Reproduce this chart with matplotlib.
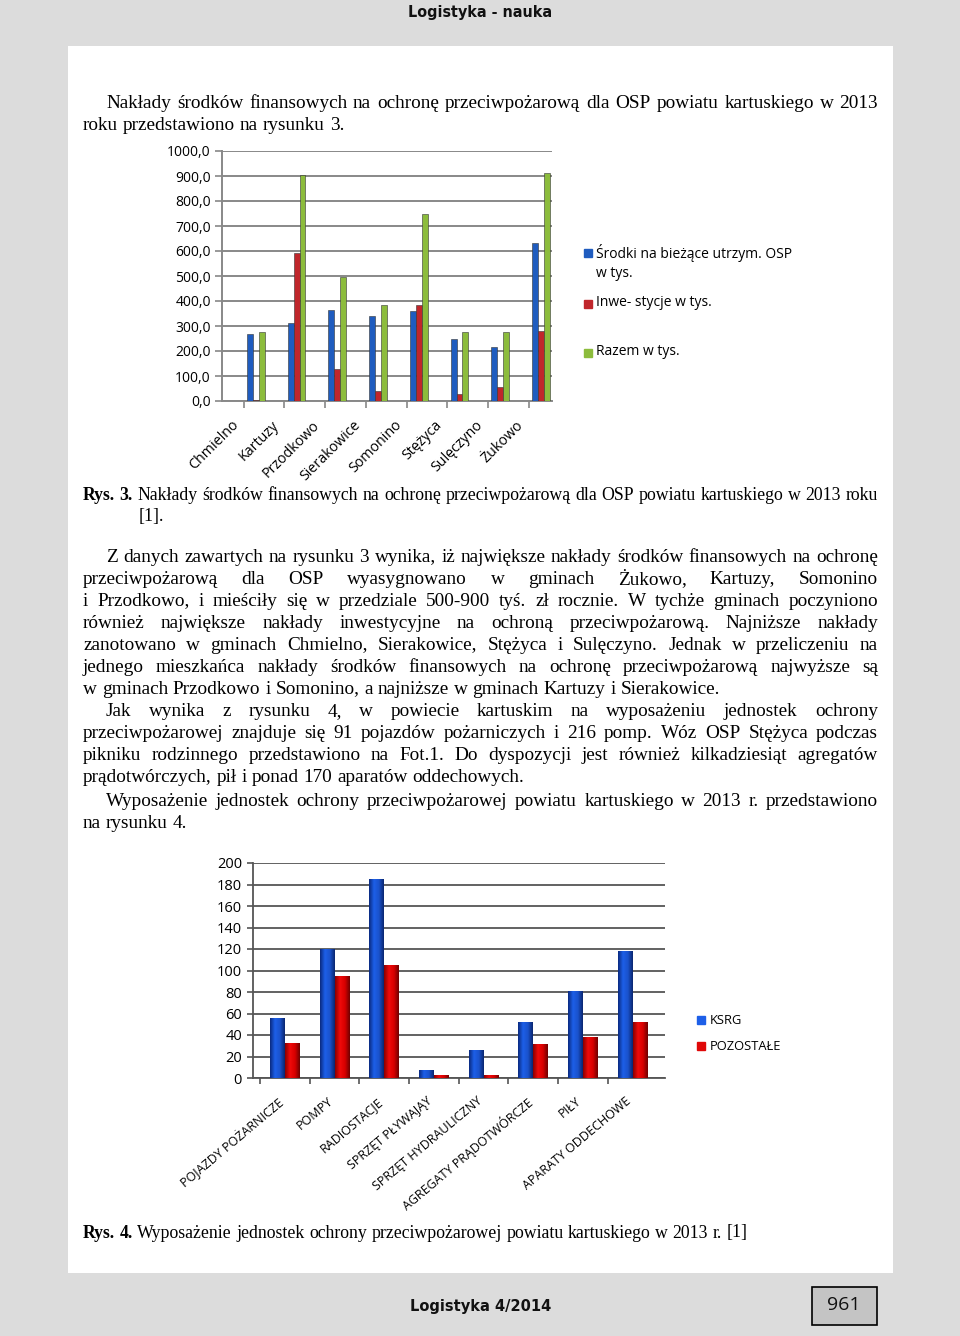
import numpy as np
import matplotlib
matplotlib.use("Agg")
import matplotlib.pyplot as plt
from matplotlib.patches import Rectangle
from matplotlib.colors import LinearSegmentedColormap

# --- data: figure 3 (thousand PLN) ---
gminy = ["Chmielno", "Kartuzy", "Przodkowo", "Sierakowice", "Somonino",
         "Stężyca", "Sulęczyno", "Żukowo"]
srodki = [270, 311, 364, 341, 361, 248, 216, 631]
inwestycje = [4, 591, 129, 41, 384, 27, 57, 280]
razem = [277, 904, 497, 384, 748, 276, 275, 913]
legend1 = ["Środki na bieżące utrzym. OSP\nw tys.", "Inwe- stycje w tys.", "Razem w tys."]

# --- data: figure 4 (units) ---
sprzet = ["POJAZDY POŻARNICZE", "POMPY", "RADIOSTACJE", "SPRZĘT PŁYWAJĄY",
          "SPRZĘT HYDRAULICZNY", "AGREGATY PRĄDOTWÓRCZE", "PIŁY", "APARATY ODDECHOWE"]
ksrg = [56, 120, 185, 7, 26, 52, 81, 118]
pozostale = [33, 95, 105, 3, 3, 32, 38, 52]

W, H = 960, 1336
fig = plt.figure(figsize=(W / 100, H / 100), dpi=100, facecolor="#dcdcdc")
r = fig.canvas.get_renderer()

def fx(x):
    return x / W

def fy(y):
    return 1 - y / H

# white page panel
fig.patches.append(Rectangle((fx(68), fy(1273)), fx(893 - 68), (1273 - 46) / H,
                             transform=fig.transFigure, facecolor="white",
                             edgecolor="none", zorder=-5))

serif = "Liberation Serif"
BODY = 13.9
CAP = 12.8

def put_words(words, y, x0, x1=None, size=BODY):
    # words: list of (text, weight); justified between x0 and x1 if given
    ts = [fig.text(0, 0, w, family=serif, fontsize=size, weight=wt, va="center")
          for w, wt in words]
    widths = [t.get_window_extent(r).width for t in ts]
    a = fig.text(0, 0, "a b", family=serif, fontsize=size)
    b = fig.text(0, 0, "ab", family=serif, fontsize=size)
    sw = a.get_window_extent(r).width - b.get_window_extent(r).width
    a.remove()
    b.remove()
    if x1 is not None and len(ts) > 1:
        gap = (x1 - x0 - sum(widths)) / (len(ts) - 1)
    else:
        gap = sw
    x = x0
    for t, w in zip(ts, widths):
        t.set_position((fx(x), fy(y)))
        x += w + gap

def line(s, y, x0, x1=None, size=BODY):
    put_words([(w, "normal") for w in s.split(" ")], y, x0, x1, size)

L, R, IND = 83, 878, 106

line("Nakłady środków finansowych na ochronę przeciwpożarową dla OSP powiatu kartuskiego w 2013", 103, IND, R)
line("roku przedstawiono na rysunku 3.", 126, L)

cap1 = "Nakłady środków finansowych na ochronę przeciwpożarową dla OSP powiatu kartuskiego w 2013 roku"
put_words([("Rys.", "bold"), ("3.", "bold")] + [(w, "normal") for w in cap1.split(" ")],
          495, L, R, CAP)
line("[1].", 517, 139, None, CAP)

para = [
    ("Z danych zawartych na rysunku 3 wynika, iż największe nakłady środków finansowych na ochronę", 557, IND, R),
    ("przeciwpożarową dla OSP wyasygnowano w gminach Żukowo, Kartuzy, Somonino", 579, L, R),
    ("i Przodkowo, i mieściły się w przedziale 500-900 tyś. zł rocznie. W tychże gminach poczyniono", 601, L, R),
    ("również największe nakłady inwestycyjne na ochroną przeciwpożarową. Najniższe nakłady", 623, L, R),
    ("zanotowano w gminach Chmielno, Sierakowice, Stężyca i Sulęczyno. Jednak w przeliczeniu na", 645, L, R),
    ("jednego mieszkańca nakłady środków finansowych na ochronę przeciwpożarową najwyższe są", 667, L, R),
    ("w gminach Przodkowo i Somonino, a najniższe w gminach Kartuzy i Sierakowice.", 689, L, None),
    ("Jak wynika z rysunku 4, w powiecie kartuskim na wyposażeniu jednostek ochrony", 712, IND, R),
    ("przeciwpożarowej znajduje się 91 pojazdów pożarniczych i 216 pomp. Wóz OSP Stężyca podczas", 734, L, R),
    ("pikniku rodzinnego przedstawiono na Fot.1. Do dyspozycji jest również kilkadziesiąt agregatów", 756, L, R),
    ("prądotwórczych, pił i ponad 170 aparatów oddechowych.", 778, L, None),
    ("Wyposażenie jednostek ochrony przeciwpożarowej powiatu kartuskiego w 2013 r. przedstawiono", 801, IND, R),
    ("na rysunku 4.", 823, L, None),
]
for s, y, a, b in para:
    line(s, y, a, b)

cap2 = "Wyposażenie jednostek ochrony przeciwpożarowej powiatu kartuskiego w 2013 r. [1]"
put_words([("Rys.", "bold"), ("4.", "bold")] + [(w, "normal") for w in cap2.split(" ")],
          1233, L, None, CAP)

# header / footer
fig.text(0.5, fy(12), "Logistyka - nauka", ha="center", va="center", fontsize=11.5,
         weight="bold", fontstretch="condensed", family="DejaVu Sans", color="#111111")
fig.text(fx(410), fy(1307), "Logistyka 4/2014", ha="left", va="center", fontsize=10.5,
         weight="bold", family="DejaVu Sans", color="#111111")
fig.patches.append(Rectangle((fx(812), fy(1325)), fx(65), 38 / H, transform=fig.transFigure,
                             facecolor="#c4c4c4", edgecolor="black", lw=1.2))
fig.text(fx(844), fy(1305), "961", ha="center", va="center", fontsize=14,
         family="Open Sans", color="#111111")

# ---------------- figure 3 ----------------
cfont = "Open Sans"
ax1 = fig.add_axes([fx(222), fy(401), fx(552 - 222), (401 - 151) / H])
x = np.arange(len(gminy))
bw = 0.145
c1 = ["#1f5cbf", "#c0262b", "#8cbc3c"]
for k, (vals, col) in enumerate(zip([srodki, inwestycje, razem], c1)):
    ax1.bar(x + (k - 1) * bw + 0.03, vals, bw, color=col, edgecolor="#333333", lw=0.4, zorder=3)
ax1.set_ylim(0, 1000)
ax1.set_xlim(-0.8, 7.3)
ax1.set_yticks(np.arange(0, 1001, 100))
ax1.set_yticklabels([f"{v:.1f}".replace(".", ",") for v in np.arange(0, 1001, 100)],
                    family=cfont, fontsize=10)
ax1.yaxis.grid(True, color="#888888", lw=1.4, zorder=0)
ax1.set_xticks(x - 0.58)
ax1.set_xticklabels(gminy, rotation=45, ha="right", rotation_mode="anchor",
                    family=cfont, fontsize=10.3)
ax1.set_xticks(x - 0.27, minor=True)
ax1.tick_params(axis="x", which="major", length=0, pad=12)
ax1.tick_params(axis="x", which="minor", length=5, color="#888888", width=1.2)
ax1.tick_params(axis="y", length=5, color="#888888", width=1.2, pad=3)
for s in ["top", "right"]:
    ax1.spines[s].set_visible(False)
for s in ["left", "bottom"]:
    ax1.spines[s].set_color("#888888")
    ax1.spines[s].set_linewidth(1.4)

ly = [253, 304, 353]
for lab, col, yy in zip(legend1, c1, ly):
    fig.patches.append(Rectangle((fx(584), fy(yy + 4)), fx(8), 8 / H,
                                 transform=fig.transFigure, color=col))
    fig.text(fx(596), fy(yy - 9), lab, ha="left", va="top", family=cfont,
             fontsize=10, linespacing=1.4)

# ---------------- figure 4 ----------------
ax2 = fig.add_axes([fx(253), fy(1078), fx(665 - 253), (1078 - 863) / H])
x2 = np.arange(len(sprzet))
bw2 = 0.3
blue_cm = LinearSegmentedColormap.from_list("b", ["#0a2a80", "#1d5fe8", "#1a52cc", "#0a2670"])
red_cm = LinearSegmentedColormap.from_list("r", ["#8a0000", "#f00a0a", "#d80000", "#700000"])
grad = np.linspace(0, 1, 64).reshape(1, -1)
for vals, off, cm in [(ksrg, -bw2 / 2, blue_cm), (pozostale, bw2 / 2, red_cm)]:
    bars = ax2.bar(x2 + off, vals, bw2, color="none", edgecolor="none", zorder=3)
    for b in bars:
        im = ax2.imshow(grad, extent=[b.get_x(), b.get_x() + b.get_width(), 0, b.get_height()],
                        aspect="auto", cmap=cm, zorder=3)
        im.set_clip_path(b)
ax2.set_ylim(0, 200)
ax2.set_xlim(-0.64, 7.65)
ax2.set_yticks(np.arange(0, 201, 20))
ax2.set_yticklabels([str(v) for v in range(0, 201, 20)], family=cfont, fontsize=10.5)
ax2.yaxis.grid(True, color="#555555", lw=1.3, zorder=0)
ax2.set_xticks(x2 - 0.15)
ax2.set_xticklabels(sprzet, rotation=40, ha="right", rotation_mode="anchor",
                    family=cfont, fontsize=9)
ax2.set_xticks(x2 - 0.5, minor=True)
ax2.tick_params(axis="x", which="major", length=0, pad=12)
ax2.tick_params(axis="x", which="minor", length=4, color="#555555", width=1.2)
ax2.tick_params(axis="y", length=4, color="#555555", width=1.2, pad=4)
for s in ["top", "right"]:
    ax2.spines[s].set_visible(False)
for s in ["left", "bottom"]:
    ax2.spines[s].set_color("#555555")
    ax2.spines[s].set_linewidth(1.3)

for lab, col, yy in zip(["KSRG", "POZOSTAŁE"], ["#1d5fe8", "#e00808"], [1020, 1046]):
    fig.patches.append(Rectangle((fx(697), fy(yy + 4)), fx(8), 8 / H,
                                 transform=fig.transFigure, color=col))
    fig.text(fx(710), fy(yy), lab, ha="left", va="center", family=cfont, fontsize=9.3)

fig.savefig("out.png", dpi=100, facecolor=fig.get_facecolor())
